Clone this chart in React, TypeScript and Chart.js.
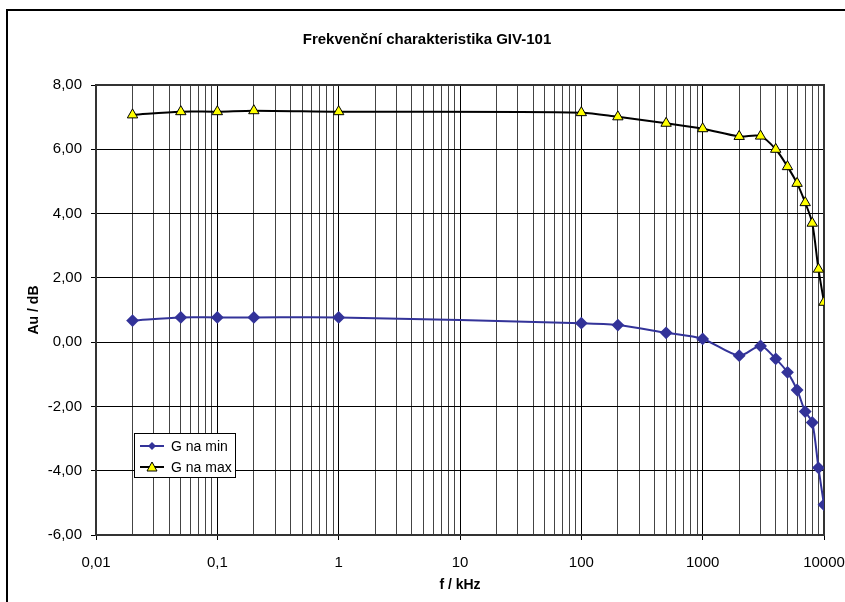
import React, { useEffect, useRef } from "react";
import { Chart, registerables } from "chart.js";

Chart.register(...registerables);

const TITLE = "Frekvenční charakteristika GIV-101";
const X_TITLE = "f / kHz";
const Y_TITLE = "Au / dB";

const freqs = [0.02, 0.05, 0.1, 0.2, 1, 100, 200, 500, 1000, 2000, 3000, 4000, 5000, 6000, 7000, 8000, 9000, 10000];
const gMin = [0.67, 0.77, 0.77, 0.77, 0.77, 0.59, 0.53, 0.29, 0.1, -0.42, -0.12, -0.52, -0.94, -1.49, -2.16, -2.5, -3.91, -5.06];
const gMax = [7.07, 7.17, 7.17, 7.2, 7.17, 7.14, 7.01, 6.81, 6.64, 6.4, 6.41, 6.0, 5.46, 4.94, 4.34, 3.7, 2.27, 1.24];
const seriesNames = ["G na min", "G na max"];

const xTickValues: number[] = [];
for (let e = -2; e <= 4; e++) {
  for (let m = 1; m <= 9; m++) {
    if (e === 4 && m > 1) break;
    xTickValues.push(parseFloat((m * Math.pow(10, e)).toPrecision(6)));
  }
}

const isPow10 = (v: number) => {
  const l = Math.log10(v);
  return Math.abs(l - Math.round(l)) < 1e-9;
};

const BLUE = "#333399";
const YELLOW = "#FFFF00";
const FONT = "Arial, 'Liberation Sans', sans-serif";

export default function App() {
  const ref = useRef<HTMLCanvasElement | null>(null);

  useEffect(() => {
    document.body.style.margin = "0";
    const canvas = ref.current!;
    const decor = {
      id: "decor",
      afterDraw(chart: any) {
        const ctx = chart.ctx;
        ctx.save();
        // outer frame
        ctx.strokeStyle = "#000";
        ctx.lineWidth = 2;
        ctx.strokeRect(7, 10, 900, 700);
        // title
        ctx.fillStyle = "#000";
        ctx.font = `bold 15px ${FONT}`;
        ctx.textAlign = "center";
        ctx.textBaseline = "middle";
        ctx.fillText(TITLE, 427, 40);
        // legend
        const lx = 134, ly = 433, lw = 101, lh = 44;
        ctx.fillStyle = "#fff";
        ctx.fillRect(lx, ly, lw, lh);
        ctx.strokeStyle = "#000";
        ctx.lineWidth = 1;
        ctx.strokeRect(lx + 0.5, ly + 0.5, lw, lh);
        const rows = [
          { y: 446, color: BLUE, name: seriesNames[0], marker: "diamond" },
          { y: 467, color: "#000", name: seriesNames[1], marker: "triangle" },
        ];
        for (const r of rows) {
          ctx.strokeStyle = r.color;
          ctx.lineWidth = 2;
          ctx.beginPath();
          ctx.moveTo(140, r.y);
          ctx.lineTo(164, r.y);
          ctx.stroke();
          const cx = 152;
          ctx.beginPath();
          if (r.marker === "diamond") {
            ctx.moveTo(cx, r.y - 4);
            ctx.lineTo(cx + 4, r.y);
            ctx.lineTo(cx, r.y + 4);
            ctx.lineTo(cx - 4, r.y);
            ctx.closePath();
            ctx.fillStyle = BLUE;
            ctx.fill();
          } else {
            ctx.moveTo(cx, r.y - 5);
            ctx.lineTo(cx + 5, r.y + 4);
            ctx.lineTo(cx - 5, r.y + 4);
            ctx.closePath();
            ctx.fillStyle = YELLOW;
            ctx.fill();
            ctx.lineWidth = 1;
            ctx.strokeStyle = "#000";
            ctx.stroke();
          }
          ctx.fillStyle = "#000";
          ctx.font = `14px ${FONT}`;
          ctx.textAlign = "left";
          ctx.textBaseline = "middle";
          ctx.fillText(r.name, 171, r.y + 1);
        }
        ctx.restore();
      },
    };

    const chart = new Chart(canvas, {
      type: "line",
      data: {
        datasets: [
          {
            label: seriesNames[1],
            data: freqs.map((f, i) => ({ x: f, y: gMax[i] })),
            borderColor: "#000",
            borderWidth: 2,
            backgroundColor: YELLOW,
            pointStyle: "triangle",
            pointRadius: 6,
            pointBorderColor: "#000",
            pointBorderWidth: 1,
            pointBackgroundColor: YELLOW,
            tension: 0.3,
          },
          {
            label: seriesNames[0],
            data: freqs.map((f, i) => ({ x: f, y: gMin[i] })),
            borderColor: BLUE,
            borderWidth: 2,
            backgroundColor: BLUE,
            pointStyle: "rectRot",
            pointRadius: 5,
            pointBorderColor: BLUE,
            pointBackgroundColor: BLUE,
            tension: 0.3,
          },
        ],
      },
      options: {
        responsive: false,
        animation: false,
        layout: { padding: { top: 85, right: 21, bottom: 0, left: 0 } },
        plugins: { legend: { display: false }, tooltip: { enabled: false }, title: { display: false } },
        scales: {
          x: {
            type: "logarithmic",
            min: 0.01,
            max: 10000,
            afterBuildTicks: (scale: any) => {
              scale.ticks = xTickValues.map((v) => ({ value: v, major: isPow10(v) }));
            },
            afterFit: (scale: any) => {
              scale.height = 67;
              scale.paddingLeft = 0;
              scale.paddingRight = 0;
            },
            ticks: {
              autoSkip: false,
              maxRotation: 0,
              padding: 14,
              color: "#000",
              font: { family: FONT, size: 15 },
              callback: (v: any) => (isPow10(Number(v)) ? String(Number(v)).replace(".", ",") : ""),
            },
            grid: {
              color: (c: any) => (c.tick && isPow10(c.tick.value) ? "#000" : "#444"),
              lineWidth: 1,
              tickLength: 5,
              tickColor: (c: any) => (c.tick && isPow10(c.tick.value) ? "#000" : "rgba(0,0,0,0)"),
            },
            border: { color: "#333", width: 2 },
            title: {
              display: true,
              text: X_TITLE,
              color: "#000",
              font: { family: FONT, size: 14, weight: "bold" },
              padding: { top: 0, bottom: 8 },
            },
          },
          y: {
            min: -6,
            max: 8,
            afterFit: (scale: any) => {
              scale.width = 96;
            },
            ticks: {
              stepSize: 2,
              padding: 9,
              color: "#000",
              font: { family: FONT, size: 15 },
              callback: (v: any) => Number(v).toFixed(2).replace(".", ","),
            },
            grid: { color: "#000", lineWidth: 1, tickLength: 5, tickColor: "#000" },
            border: { color: "#333", width: 2 },
            title: {
              display: true,
              text: Y_TITLE,
              color: "#000",
              font: { family: FONT, size: 14, weight: "bold" },
              padding: { top: 26, bottom: 0 },
            },
          },
        },
      },
      plugins: [
        decor,
        {
          id: "areaBorder",
          beforeDatasetsDraw(chart: any) {
            const { left, right, top, bottom } = chart.chartArea;
            const ctx = chart.ctx;
            ctx.save();
            ctx.strokeStyle = "#333";
            ctx.lineWidth = 2;
            ctx.strokeRect(left, top, right - left, bottom - top);
            ctx.restore();
          },
        },
      ],
    } as any);
    return () => chart.destroy();
  }, []);

  return (
    <div style={{ position: "relative", width: 845, height: 602, background: "#fff" }}>
      <canvas ref={ref} width={845} height={602} style={{ display: "block", width: 845, height: 602 }} />
    </div>
  );
}
